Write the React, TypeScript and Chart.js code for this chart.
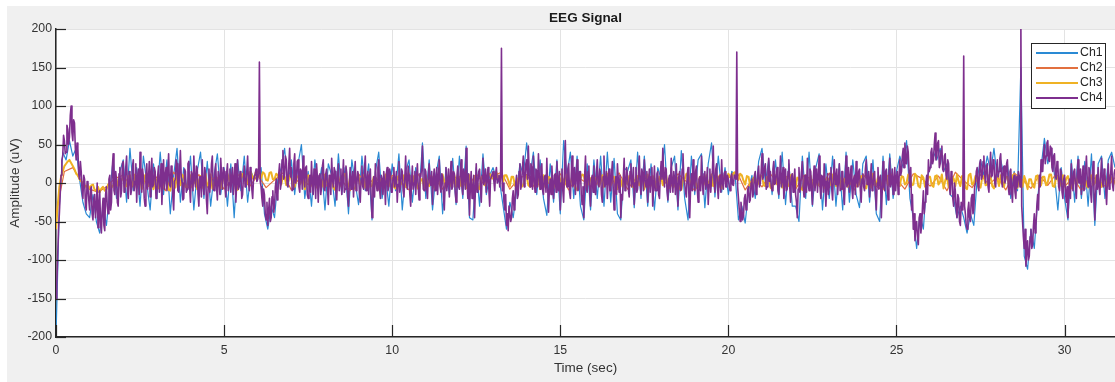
import { useEffect, useRef } from 'react';
import { Chart, registerables } from 'chart.js';

Chart.register(...registerables);

const TITLE = 'EEG Signal';
const X_LABEL = 'Time (sec)';
const Y_LABEL = 'Amplitude (uV)';
const CHANNEL_NAMES = ['Ch1', 'Ch2', 'Ch3', 'Ch4'];
const CHANNEL_COLORS = ['#2a8ad4', '#e2703f', '#efb224', '#7e2f8e'];
const CHANNEL_WIDTHS = [1.2, 1.2, 2, 1.6];
const X_MIN = 0;
const X_MAX = 31.5;
const X_STEP = 5;
const Y_MIN = -200;
const Y_MAX = 200;
const Y_STEP = 50;

// sample spacing (seconds) of each digitised channel
const CH1_DT = 0.1;
const CH2_DT = 0.25;
const CH3_DT = 0.05;
const CH4_DT = 0.025;

const CH1 = [
  -200, -30, 40, 30, 55, 35, 45, 5, -25, -40,
  -45, -15, -50, -65, -30, -55, -10, 30, -20, 15,
  30, -25, 45, -10, 20, -30, 35, 0, -35, 25,
  -20, 40, -15, 30, -40, 10, 45, -25, 20, -10,
  35, -35, 15, 40, -20, 28, -30, 10, 38, -15,
  20, -30, 25, -45, 30, -10, 35, -25, 15, 5,
  10, 20, -40, -60, -30, -45, 5, 20, 45, -5,
  30, -15, 25, 50, -20, 15, -30, 30, -10, 20,
  -35, 25, 10, -30, 38, -15, 20, -40, 30, 0,
  -28, 35, -10, 25, -48, 15, 40, -20, 10, -30,
  25, -10, 38, -35, 15, 30, -25, 20, -15, 52,
  -20, 30, -35, 10, 35, -40, 20, -15, 32, -28,
  35, -20, 48, -45, -48, 20, -30, 38, -15, 10,
  20, 5, 0, -30, -60, -25, -45, -10, 25, 10,
  52, 10, 40, -15, 30, -20, -42, 25, -25, 30,
  -40, 55, 10, 40, -20, 35, -30, -48, 25, -35,
  30, -20, 35, -30, 40, -25, 32, -40, -48, 20,
  15, 30, -32, 40, -20, 35, -30, 25, -35, 20,
  5, 50, -25, 20, 35, -35, 42, -20, -48, 35,
  -15, 30, 38, -32, 25, 52, -18, 35, -12, 20,
  -15, 15, 10, -48, -30, -52, -10, 10, -20, 28,
  45, 0, 30, -15, 30, -20, 40, -28, 25, -30,
  -30, -50, 35, -20, 40, -30, 20, 38, -35, 25,
  -20, 35, -30, 25, -35, 40, -25, 30, -15, -32,
  25, 35, -25, 30, -40, -50, 35, -28, 38, -20,
  15, 35, 20, 55, -20, -45, -85, -40, -60, 5,
  20, 40, 30, 45, 15, 25, -15, -20, -45, -30,
  -45, -65, -40, -55, 5, 30, 10, 35, 15, 45,
  5, 30, 10, 25, -20, 15, -10, 150, -95, -112,
  -60, -85, -20, 20, 58, 25, 45, 10, -35, 20,
  -20, -48, 30, -25, 35, -20, 28, -30, 38, -55,
  25, 35, -20, 30, 40, 20,
];

const CH2 = [
  -40, 15, 20, 2, -8, -12, -5, 6,
  10, -6, 12, -4, 8, -10, 14, 0, -7, 11, -3, 9,
  -8, 6, 12, -5, 10, -6, 4, 13, -9, 7, -2, 11,
  -6, 9, 3, -10, 12, -4, 8, -7, 10, 2, -9, 13,
  -5, 7, -8, 11, 4, -6, 12, -3, 9, 14, -8, 5,
  11, -7, 6, -4, 12, -9, 8, 1, -6, 10, -3, 13,
  -8, 6, 11, -5, 9, -7, 12, 2, -10, 8, -4, 11,
  6, 15, -9, 7, -5, 12, -2, 9, -8, 10, 4, -6,
  13, -3, 8, -9, 11, 0, -7, 10, 5, -8, 12, 6,
  -4, 9, -10, 14, 3, -6, 11, -2, 8, -9, 13, 4,
  -7, 10, -3, 12, -5, 8, -10, 9, 4, -6, 7,
];

const CH3 = [
  -60, -30, -5, 8, 15, 22, 25, 28, 30, 26, 22, 18, 12, 10, 5, 2, 0, -4, -5, -2,
  -8, -3, -2, -9, -10, -5, -12, -7, -5, -10, -8, -2, 0, -6, -3, 2, 5, -4, -2, 4,
  8, -5, -4, 9, 10, -3, 2, 11, -6, 3, 7, -8, -2, 10, 12, -4, 0, 8, -8, 5,
  5, -7, 10, 3, -5, 9, 3, -9, -10, 4, 6, -6, 12, 2, -3, 11, 8, -5, -6, 7,
  10, -4, 0, 9, -8, 3, 9, -6, 2, 12, -5, 1, 11, -7, -2, 8, 6, -3, -7, 9,
  4, -6, 12, 5, -4, 10, 7, -8, -9, 6, 5, 12, 10, 3, 0, 14, 14, 6, 8, 15,
  15, 8, 6, 14, 12, 4, 3, 13, 14, 5, 5, 12, 10, 2, -2, 9, 8, -3, 0, 10,
  6, -4, -5, 8, 9, -2, 2, 10, -8, 1, 10, -5, -3, 9, 7, -6, -6, 5, 4, -5,
  11, 1, -2, 9, 6, -6, -9, 5, 8, -4, 0, 10, 12, -3, -5, 8, 5, -8, -7, 6,
  9, -3, 2, 10, -6, 4, 10, -5, -3, 8, 7, -7, -8, 5, 4, -6, 11, 2, -4, 8,
  6, -5, -7, 8, 9, -2, 1, 10, -5, 3, 12, -4, -2, 9, 8, -6, -9, 4, 5, -6,
  10, -2, -4, 9, 7, -6, -8, 5, 3, -6, 11, 2, -6, 8, 6, -4, 0, 10, -5, 5,
  8, -4, 2, 10, -7, 3, 10, -5, -3, 9, 6, -6, -8, 7, 9, -3, 4, 11, 12, 6,
  6, 12, 14, 7, 8, 13, 2, 10, 10, 4, -4, 8, 8, -3, -6, 6, 5, -5, -2, 8,
  9, -3, -5, 6, 7, -4, 0, 10, -8, 2, 10, -5, -3, 8, 6, -6, -7, 5, 8, -3,
  2, 9, -6, 4, 11, -4, -2, 8, 7, -7, -9, 3, 5, 11, 10, -3, -4, 7, 6, -5,
  -7, 6, 9, -4, 1, 10, -5, 4, 12, -2, -3, 8, 8, -6, -8, 5, 4, -5, 10, 2,
  -2, 9, 7, -5, -6, 8, 9, -3, 0, 11, -8, 3, 11, -4, -3, 9, 6, -6, -5, 8,
  8, -3, 3, 10, -7, 2, 10, -6, -4, 8, 6, -7, -9, 4, 5, 12, 12, 3, -2, 9,
  7, -4, -6, 8, 9, -3, 1, 10, -5, 4, 11, -4, -3, 9, 8, -5, -7, 6, 10, 2,
  12, 8, 6, 13, 14, 6, 4, 12, 10, 3, -2, 9, 8, -4, -5, 7, 6, -3, 0, 10,
  9, -3, -4, 8, 7, -6, -8, 5, 10, -2, 2, 11, -6, 3, 8, -5, -3, 10, 11, -4,
  -5, 7, 6, -6, -9, 4, 10, -2, 1, 9, -6, 5, 12, -3, -2, 9, 7, -6, -7, 6,
  5, -3, 11, 6, -4, 9, 8, -6, -8, 5, 3, -5, 10, 2, -5, 8, 6, -4, -1, 9,
  9, -5, -7, 6, 4, -6, 12, 3, -3, 8, 7, -5, -8, 6, 10, -3, 0, 11, 6, -2,
  6, -3, -4, 9, 8, -2, 0, 11, 10, -3, -2, 12, 9, -4, -6, 10, 7, -5, -3, 8,
  8, -3, -5, 9, 10, -2, 2, 11, -7, 3, 9, -5, -3, 8, 6, -4, 11, 2, -4, 9,
  7, -6, -8, 10, 12, -2, 0, 9, 5, -5, -6, 7, 9, -3, -2, 10, 8, -4, -7, 6,
  6, -4, 10, 3, -5, 8, 8, -4, -2, 10, 11, -3, -6, 7, 4, -5, 9, 2, -8, 5,
  5, -4, -6, 9, 10, -5, -3, 8, 8, -3, 1, 11, 11, -4, -5, 9, 7, -4, 2, 10,
  -4, 6, 9, -3, -7, 8, 6, -5, 12, 3, -2, 9, 8, -4, -6, 9, 10, -3, 0, 10,
  7, -4, -5, 8, 9, -4, -3, 10, 6, -2, 4,
];

const CH4 = [
  -150, -130, -95, -60, -40, -15, 10, 30, 35, 62, 55, 38, 40, 75, 70, 50, 60, 88, 100, 65,
  55, 82, 78, 45, 30, 52, 45, 12, 5, 28, 15, -10, -20, 10, 5, -28, -35, 2, -5, -22,
  -35, -8, -5, -40, -48, -20, -15, -45, -30, 0, -58, -28, -10, -50, -65, -35, -20, -55, -62, -15,
  -5, -30, -40, 5, 10, -35, -25, 20, 38, -10, -15, 15, 5, -25, -30, 12, 20, -18, -10, 25,
  28, -12, -5, 20, 35, -8, -20, 15, 12, -15, -8, 22, 30, -10, 2, 25, -25, 8, 18, -15,
  40, 5, -12, 18, 8, -20, -30, 10, 25, -8, 5, 28, -18, 12, 32, -5, -2, 20, 15, -20,
  -15, 10, 22, -12, 0, 25, -28, 5, 30, -8, 10, 20, -10, 15, 38, -2, -5, 22, 18, -18,
  -35, 2, 5, 30, 25, -10, -12, 15, 42, 8, 0, -22, -20, 18, 15, -12, -8, 25, 28, -5,
  -25, 15, 10, -10, 35, 5, -5, 22, 20, -15, -30, 8, 8, -18, 30, 0, -15, 20, 12, -22,
  -40, -5, 18, -12, 2, 25, 35, -8, -10, 12, 25, -5, -22, 15, 5, -15, 32, 10, -8, 20,
  15, -5, -18, 12, 25, -10, 0, 18, -12, 8, 20, -15, 5, 25, -25, 0, 30, -8, -5, 15,
  10, -20, -15, 8, 22, -5, -3, 15, 35, 2, -10, 20, 12, -8, -20, 5, 8, 12, 18, 2,
  5, 12, 157, 2, -5, -20, -30, -8, -15, -40, -48, -25, -55, -35, -20, -50, -45, -18, -10, -38,
  -30, -5, 5, -22, -15, 12, 25, -8, 0, 30, 42, 5, 10, 35, 30, -2, -5, 25, 45, 8,
  20, -10, -8, 25, 38, 0, 5, 28, 30, -5, -12, 18, 15, -8, 35, 10, -5, 20, 22, -15,
  -20, 5, 10, -12, 28, 2, -15, 18, 5, -20, 25, 8, -25, 10, 12, -15, -5, 22, 30, -8,
  -10, 12, 18, -5, -28, 10, 8, -15, 32, 5, -5, 20, 15, -12, -22, 8, 25, -10, 0, 18,
  -15, 5, 30, -12, -8, 22, 12, -18, -30, 0, 20, -8, 5, 15, -18, 10, 28, -10, -2, 15,
  10, -12, -25, 5, 22, -5, -8, 18, 35, -10, 0, 15, -15, 8, 18, -20, -45, -5, 8, -18,
  25, 2, -10, 20, 30, -8, -20, 10, 5, -15, 15, 0, -28, 12, 20, -10, -5, 18, 12, -12,
  -12, 8, 20, -5, 3, 15, -25, -2, 28, -12, -5, 18, 15, -10, -18, 5, 35, 0, -8, 22,
  10, -15, -30, 2, 22, -8, 0, 15, -15, 10, 25, -5, -22, 12, 8, 20, 48, -8, -10, 18,
  15, -8, -20, 10, 25, 0, -3, 15, -28, 5, 18, -10, 5, 20, -15, 8, 30, -5, -12, 12,
  8, -18, -35, 0, 20, -10, 2, 18, -18, 5, 28, -8, -5, 15, 12, -12, -25, 8, 22, -5,
  -8, 15, 30, -5, -15, 18, 10, -8, 45, 5, -20, 12, -42, -5, 15, -20, -10, 10, -45, -8,
  25, -12, 0, 15, 18, -5, -25, 10, 32, -2, 5, 18, -12, 8, 20, -8, -30, 5, 8, 12,
  15, 2, -10, 12, 20, 0, 5, 10, -5, 8, 175, -10, 0, -25, -35, -15, -55, -40, -62, -30,
  -30, -50, -45, -20, -10, -35, -25, 0, 10, -20, -15, 15, 25, -8, 0, 20, 35, -5, 5, 25,
  30, 5, 48, 10, -5, 25, 20, -8, 35, 5, -12, 18, 15, -5, 38, 10, -8, 20, 25, -10,
  -15, 8, 10, -12, 32, -5, -38, -10, 5, -15, 22, 0, -20, 10, 12, -12, 28, 2, -10, 15,
  -35, 0, 18, -10, -25, 15, 55, 5, -5, 18, 25, -12, -20, 10, 35, -5, 0, 20, -15, 8,
  30, -10, -8, 15, 15, -15, -28, -5, -45, 10, 35, -8, -12, 15, 22, -10, -30, 5, 10, -12,
  22, -8, -15, 12, 30, -2, -5, 18, 12, -15, -25, 8, 35, -5, 0, 15, -20, 5, 18, -10,
  -10, 12, 28, -8, -35, -2, 8, -15, 25, 5, -12, 10, -45, -15, -22, 8, 32, -10, -5, 20,
  10, -8, -18, 15, 25, -5, 2, 20, -28, 0, 20, -12, -8, 12, 35, 2, -15, 18, 12, -10,
  30, 5, -5, 15, -25, 2, 18, -12, 8, 20, -30, -5, 22, -10, -10, 12, 15, -15, -20, 10,
  28, 5, 45, 8, -5, 20, 18, -10, -22, 5, 10, -12, 32, 2, -12, 15, 5, -15, 25, -5,
  -30, 8, 15, -10, -8, 18, 38, 5, 0, -12, -18, 10, 20, -15, -45, -8, 12, -10, 30, 0,
  -10, 15, 22, -8, -25, 5, 8, -10, 35, 2, -15, 12, 15, -8, 0, 20, -28, -2, 18, -12,
  5, 15, 48, 2, -12, 18, 25, -5, -20, 8, 10, -12, 30, 0, -8, 12, 15, -5, -5, 10,
  5, -5, -10, 8, 12, -2, -3, 10, 8, 5, 170, -5, -20, -35, -50, -25, -35, -48, -42, -20,
  -15, -35, -30, -8, -5, -25, -22, 0, 5, -18, -12, 10, 15, -15, -8, 12, 22, -5, 0, 15,
  38, 5, 10, 20, 25, -8, -5, 15, 32, 2, 15, -5, -10, 18, 28, -2, 0, 15, 20, -10,
  -15, 8, 35, -5, 5, 20, -20, -2, 18, -10, -8, 15, 30, -5, -25, 8, 12, -12, 2, 18,
  -15, -25, -45, -8, 20, -12, -5, 15, 28, -5, -18, 10, 10, -12, 32, 0, -10, 18, 15, -8,
  -28, 5, 22, -10, 5, 18, -12, 8, 35, -5, -20, 10, 8, -12, 25, 2, -30, -5, 12, -15,
  -5, 12, 20, -8, -22, 8, 30, -2, 8, 18, -15, 5, 25, -10, -8, 15, 15, -12, -28, 2,
  35, -5, 0, 20, -12, 8, 22, -8, -20, 5, 10, -15, 28, 2, -5, 15, 18, -10, -25, 5,
  12, -5, -10, 18, 30, -2, 2, 15, -18, 5, 25, -10, -6, 12, 15, -15, -35, 0, 20, -8,
  5, 10, -45, -12, 28, -5, -10, 15, 18, -8, -22, 10, 32, -5, 0, 18, -15, 5, 20, -10,
  8, 15, -15, 5, 30, 10, 15, 35, 45, 20, 52, 30, 25, 48, 40, 15, -5, 20, -35, -15,
  -60, -40, -75, -55, -50, -70, -80, -45, -40, -65, -55, -30, -10, -40, -25, 0, 10, -15, 30, 15,
  20, 40, 45, 25, 30, 50, 65, 30, 35, 52, 55, 20, 25, 42, 48, 18, 15, 35, 38, 10,
  5, 30, 25, -5, -15, 15, 10, -20, -30, 0, -10, -35, -45, -15, -20, -50, -55, -25, -35, -10,
  165, -30, -40, -55, -60, -35, -25, -45, -50, -20, -15, -40, -35, -5, 0, 15, 20, -5, -10, 25,
  30, 5, 8, 28, 35, 10, 0, 22, 25, -5, -12, 18, 40, 8, 10, 30, 28, 0, -5, 20,
  30, 8, 15, 32, 38, 5, -5, 20, 22, 0, 5, 25, 30, -5, -15, 15, 18, -8, -25, 5,
  10, -12, -20, 8, -5, 15, 10, -5, 210, -30, -50, -70, -85, -60, -108, -90, -75, -100, -95, -70,
  -60, -85, -80, -55, -40, -65, -55, -30, -15, -35, 10, -5, 30, 15, 15, 38, 50, 25, 35, 52,
  55, 30, 28, 48, 45, 20, 15, 35, 38, 10, 5, 28, 25, -5, -10, 18, 15, -12, -20, 5,
  10, -10, -25, -5, -45, -15, 5, -20, 25, 5, -10, 15, 18, -5, -20, 10, 30, 0, 0, 18,
  -15, 5, 22, -10, -8, 15, 35, 5, -5, 20, 15, -12, -25, 8, 28, -10, -48, -15, 10, -8,
  20, -5, -15, 10, 32, 2, -5, 18, 12, -10, -28, 5, 25, -8, 0, 15, 35, -2, -10, 12,
  18,
];

const SERIES = [
  { values: CH1, dt: CH1_DT },
  { values: CH2, dt: CH2_DT },
  { values: CH3, dt: CH3_DT },
  { values: CH4, dt: CH4_DT },
];

const FONT = "'Liberation Sans', Arial, Helvetica, sans-serif";
const AXIS_COLOR = '#262626';

const toPoints = (values: number[], dt: number) =>
  values.map((v, i) => ({ x: +(i * dt).toFixed(3), y: v }));

const backgroundPlugin = {
  id: 'matlabBackground',
  beforeDraw(chart: any) {
    const { ctx, chartArea } = chart;
    ctx.save();
    ctx.fillStyle = '#f0f0f0';
    ctx.fillRect(0, 0, chart.width, chart.height);
    ctx.fillStyle = '#ffffff';
    ctx.fillRect(chartArea.left, chartArea.top, chartArea.right - chartArea.left, chartArea.bottom - chartArea.top);
    ctx.restore();
  },
};

const ticksAndLegendPlugin = {
  id: 'matlabTicksLegend',
  afterDraw(chart: any) {
    const { ctx, chartArea, scales } = chart;
    ctx.save();
    ctx.strokeStyle = AXIS_COLOR;
    ctx.lineWidth = 1.2;
    scales.y.ticks.forEach((t: any) => {
      const y = Math.round(scales.y.getPixelForValue(t.value)) + 0.5;
      ctx.beginPath();
      ctx.moveTo(chartArea.left, y);
      ctx.lineTo(chartArea.left + 10, y);
      ctx.stroke();
    });
    scales.x.ticks.forEach((t: any) => {
      const x = Math.round(scales.x.getPixelForValue(t.value)) + 0.5;
      ctx.beginPath();
      ctx.moveTo(x, chartArea.bottom);
      ctx.lineTo(x, chartArea.bottom - 12);
      ctx.stroke();
    });
    const w = 74;
    const h = 65;
    const bx = chartArea.right - 10 - w;
    const by = chartArea.top + 14;
    ctx.fillStyle = '#ffffff';
    ctx.fillRect(bx, by, w, h);
    ctx.strokeStyle = '#262626';
    ctx.lineWidth = 1;
    ctx.strokeRect(bx + 0.5, by + 0.5, w, h);
    ctx.font = `12.3px ${FONT}`;
    ctx.textBaseline = 'middle';
    ctx.textAlign = 'left';
    CHANNEL_NAMES.forEach((name, i) => {
      const y = by + 10 + i * 15;
      ctx.strokeStyle = CHANNEL_COLORS[i];
      ctx.lineWidth = 2;
      ctx.beginPath();
      ctx.moveTo(bx + 5, y);
      ctx.lineTo(bx + 47, y);
      ctx.stroke();
      ctx.fillStyle = '#262626';
      ctx.fillText(name, bx + 49, y);
    });
    ctx.restore();
  },
};

export default function App() {
  const canvasRef = useRef<HTMLCanvasElement | null>(null);

  useEffect(() => {
    if (!canvasRef.current) return;
    const datasets = SERIES.map((s, i) => ({
      label: CHANNEL_NAMES[i],
      data: toPoints(s.values, s.dt),
      borderColor: CHANNEL_COLORS[i],
      backgroundColor: CHANNEL_COLORS[i],
      borderWidth: CHANNEL_WIDTHS[i],
      borderJoinStyle: 'round' as const,
      pointRadius: 0,
      tension: 0,
      fill: false,
      order: CHANNEL_NAMES.length - 1 - i,
    }));

    const chart = new Chart(canvasRef.current, {
      type: 'line',
      data: { datasets },
      options: {
        animation: false,
        responsive: false,
        devicePixelRatio: 1,
        events: [],
        layout: { padding: { left: 0, right: 0, top: 0, bottom: 0 } },
        plugins: {
          legend: { display: false },
          tooltip: { enabled: false },
          title: {
            display: true,
            text: TITLE,
            fullSize: false,
            color: '#1a1a1a',
            font: { family: FONT, size: 13.5, weight: 'bold' },
            padding: { top: 4.1, bottom: 2.7 },
          },
        },
        scales: {
          x: {
            type: 'linear',
            min: X_MIN,
            max: X_MAX,
            afterFit: (s: any) => { s.height = 45; },
            ticks: {
              stepSize: X_STEP,
              includeBounds: false,
              autoSkip: false,
              maxRotation: 0,
              padding: 6,
              color: '#333333',
              font: { family: FONT, size: 12.3 },
            },
            grid: { color: '#e3e3e3', lineWidth: 1, drawTicks: false },
            border: { color: AXIS_COLOR, width: 1.5 },
            title: {
              display: true,
              text: X_LABEL,
              color: '#333333',
              font: { family: FONT, size: 13.5 },
              padding: { top: 0, bottom: 5.5 },
            },
          },
          y: {
            type: 'linear',
            min: Y_MIN,
            max: Y_MAX,
            afterFit: (s: any) => { s.width = 49; },
            ticks: {
              stepSize: Y_STEP,
              autoSkip: false,
              padding: 4,
              color: '#333333',
              font: { family: FONT, size: 12.3 },
            },
            grid: { color: '#e3e3e3', lineWidth: 1, drawTicks: false },
            border: { color: AXIS_COLOR, width: 1.5 },
            title: {
              display: true,
              text: Y_LABEL,
              color: '#333333',
              font: { family: FONT, size: 13.5 },
              padding: { top: 0, bottom: 0 },
            },
          },
        },
      },
      plugins: [backgroundPlugin, ticksAndLegendPlugin],
    });
    return () => chart.destroy();
  }, []);

  return (
    <div style={{ position: 'absolute', left: 0, top: 0, width: 1115, height: 382, background: '#ffffff', overflow: 'hidden' }}>
      <div style={{ position: 'absolute', left: 7, top: 6, width: 1108, height: 376 }}>
        <canvas ref={canvasRef} width={1108} height={376} style={{ display: 'block' }} />
      </div>
    </div>
  );
}
